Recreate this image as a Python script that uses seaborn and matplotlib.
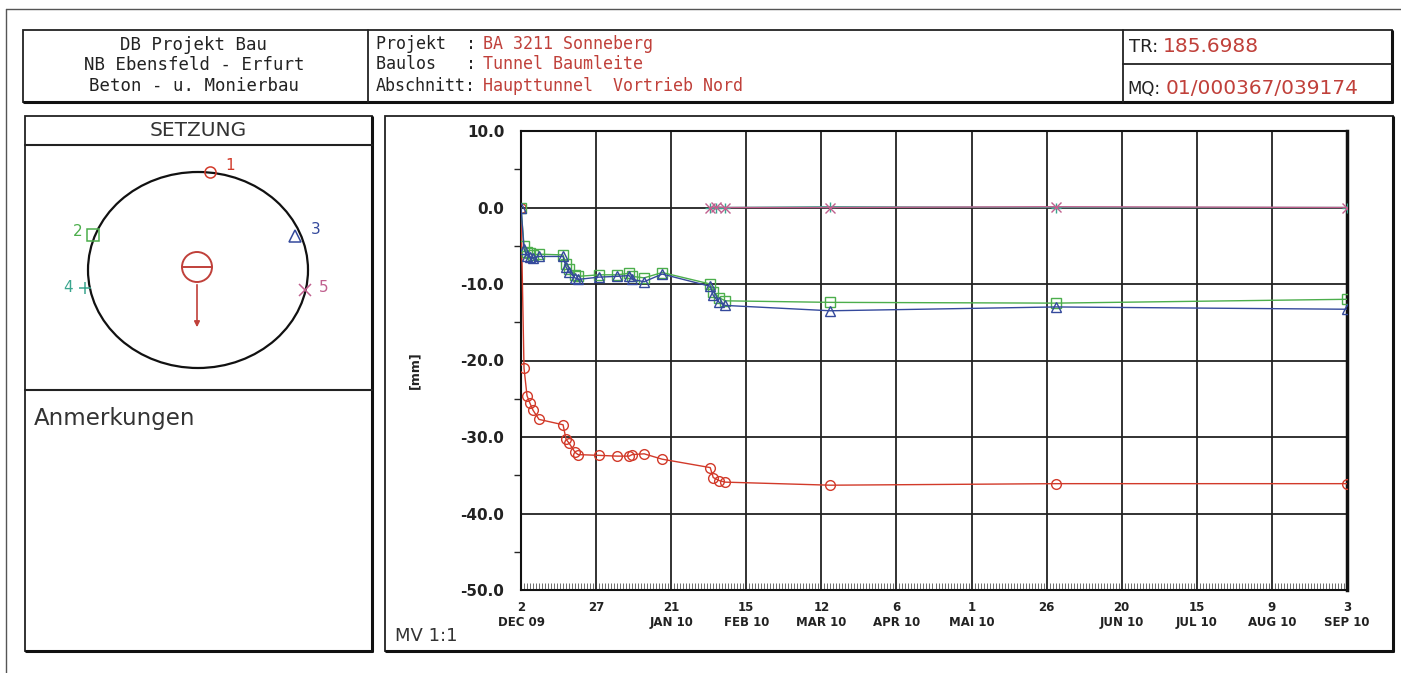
import pandas as pd
import seaborn as sns
import matplotlib.pyplot as plt
import matplotlib.dates as mdates
from matplotlib.patches import Rectangle, Ellipse, Circle

# Messdaten (Setzung in mm)
dates = ['2009-12-02', '2009-12-03', '2009-12-04', '2009-12-05', '2009-12-06',
         '2009-12-08', '2009-12-16', '2009-12-17', '2009-12-18', '2009-12-20',
         '2009-12-21', '2009-12-28', '2010-01-03', '2010-01-07', '2010-01-08',
         '2010-01-12', '2010-01-18', '2010-02-03', '2010-02-04', '2010-02-06',
         '2010-02-08', '2010-03-15', '2010-05-29', '2010-09-03']
p1 = [0.0, -21.0, -24.6, -25.6, -26.5, -27.7, -28.4, -30.3, -30.8, -32.0,
      -32.3, -32.4, -32.5, -32.5, -32.3, -32.2, -32.9, -34.0, -35.3, -35.7,
      -35.9, -36.3, -36.1, -36.1]
p2 = [0.0, -5.0, -5.8, -6.0, -6.2, -6.1, -6.2, -7.4, -8.0, -8.8,
      -9.0, -8.8, -8.8, -8.6, -9.0, -9.2, -8.5, -10.0, -11.0, -11.8,
      -12.2, -12.4, -12.5, -12.0]
p3 = [0.0, -5.4, -6.3, -6.5, -6.6, -6.4, -6.4, -7.8, -8.4, -9.2,
      -9.4, -9.1, -9.0, -8.9, -9.4, -9.7, -8.7, -10.3, -11.5, -12.4,
      -12.8, -13.5, -13.0, -13.3]
dates45 = ['2010-02-03', '2010-02-05', '2010-02-08', '2010-03-15', '2010-05-29', '2010-09-03']
p4 = [0.0, 0.0, 0.0, 0.1, 0.0, 0.0]
p5 = [0.0, 0.1, 0.0, 0.0, 0.1, 0.0]

tick_dates = ['2009-12-02', '2009-12-27', '2010-01-21', '2010-02-15', '2010-03-12',
              '2010-04-06', '2010-05-01', '2010-05-26', '2010-06-20', '2010-07-15',
              '2010-08-09', '2010-09-03']
tick_labels = ['2\nDEC 09', '27', '21\nJAN 10', '15\nFEB 10', '12\nMAR 10',
               '6\nAPR 10', '1\nMAI 10', '26', '20\nJUN 10', '15\nJUL 10',
               '9\nAUG 10', '3\nSEP 10']
y_ticks = [10, 0, -10, -20, -30, -40, -50]

colors = {'1': '#d23a2a', '2': '#4cae4c', '3': '#34499c', '4': '#3aa58e', '5': '#c0608e'}
markers = {'1': 'o', '2': 's', '3': '^', '4': '+', '5': 'x'}

sns.set_style('white')
W, H = 1401, 673
fig = plt.figure(figsize=(W / 100, H / 100), dpi=100)

# Hintergrund-Achse in Pixelkoordinaten fuer Rahmen und Beschriftung
bg = fig.add_axes([0, 0, 1, 1])
bg.set_xlim(0, W)
bg.set_ylim(H, 0)
bg.axis('off')


def box(x0, y0, x1, y1, lw=1.3):
    bg.add_patch(Rectangle((x0, y0), x1 - x0, y1 - y0, fill=False, ec='#222', lw=lw))
    bg.plot([x0 + 1, x1], [y1, y1], color='#111', lw=2.2)
    bg.plot([x1, x1], [y0 + 1, y1], color='#111', lw=2.2)


bg.plot([6, W], [9, 9], color='#555', lw=1)
bg.plot([6, 6], [9, H], color='#555', lw=1)

# Kopfzeile
box(23, 30, 1392, 102)
bg.plot([368, 368], [30, 102], color='#222', lw=1.3)
bg.plot([1123, 1123], [30, 102], color='#222', lw=1.3)
bg.plot([1123, 1392], [64, 64], color='#222', lw=1.3)
mono = 'DejaVu Sans Mono'
for yy, t in zip([45, 65, 86], ['DB Projekt Bau', 'NB Ebensfeld - Erfurt', 'Beton - u. Monierbau']):
    bg.text(194, yy, t, ha='center', va='center', family=mono, fontsize=12.5, color='#222')
for yy, lab, val in zip([44, 64, 86], ['Projekt  :', 'Baulos   :', 'Abschnitt:'],
                        ['BA 3211 Sonneberg', 'Tunnel Baumleite', 'Haupttunnel  Vortrieb Nord']):
    bg.text(376, yy, lab, ha='left', va='center', family=mono, fontsize=12, color='#222')
    bg.text(483, yy, val, ha='left', va='center', family=mono, fontsize=12, color='#c0403a')
bg.text(1129, 47, 'TR:', ha='left', va='center', fontsize=13, color='#222')
bg.text(1163, 47, '185.6988', ha='left', va='center', fontsize=14.5, color='#c0403a')
bg.text(1127, 89, 'MQ:', ha='left', va='center', fontsize=12, color='#222')
bg.text(1166, 89, '01/000367/039174', ha='left', va='center', fontsize=14.5, color='#c0403a')

# linke Spalte
box(25, 116, 372, 651)
bg.plot([25, 372], [145, 145], color='#222', lw=1.5)
bg.plot([25, 372], [390, 390], color='#222', lw=1.5)
bg.text(198, 131, 'SETZUNG', ha='center', va='center', fontsize=14.5, color='#333')
bg.text(34, 418, 'Anmerkungen', ha='left', va='center', fontsize=16.5, color='#333')

bg.add_patch(Ellipse((198, 270), 220, 196, fill=False, ec='#111', lw=1.6))
bg.add_patch(Circle((197, 267), 15, fill=False, ec='#c0403a', lw=1.4))
bg.plot([182, 212], [267, 267], color='#c0403a', lw=1.4)
bg.annotate('', xy=(197, 330), xytext=(197, 282),
            arrowprops=dict(arrowstyle='-|>', color='#c0403a', lw=1.2, mutation_scale=8))
pts = {'1': (210, 172), '2': (93, 235), '3': (295, 236), '4': (85, 288), '5': (305, 290)}
labpos = {'1': (230, 166), '2': (78, 231), '3': (316, 230), '4': (68, 287), '5': (324, 288)}
for k, (px, py) in pts.items():
    bg.plot(px, py, marker=markers[k], ms=8, mfc='none', mec=colors[k], mew=1.1)
    bg.text(*labpos[k], k, ha='center', va='center', fontsize=11, color=colors[k])

# Diagramm-Rahmen
box(385, 116, 1393, 651)
bg.text(395, 636, 'MV 1:1', ha='left', va='center', fontsize=13, color='#333')
bg.text(415, 370, '[mm]', ha='center', va='center', rotation=90, fontsize=9,
        fontweight='bold', color='#222')

# Diagramm
ax = fig.add_axes([521 / W, 1 - 590 / H, 826 / W, (590 - 131) / H])
series = [('1', dates, p1), ('2', dates, p2), ('3', dates, p3), ('4', dates45, p4), ('5', dates45, p5)]
for k, d, v in series:
    sns.lineplot(x=pd.to_datetime(d), y=v, ax=ax, color=colors[k], lw=1.0,
                 marker=markers[k], ms=7, mfc='none', mec=colors[k], mew=1.0,
                 errorbar=None, zorder=3)

ax.set_xlim(pd.Timestamp('2009-12-02'), pd.Timestamp('2010-09-03'))
ax.set_ylim(-50, 10)
ax.set_xticks(pd.to_datetime(tick_dates))
ax.set_xticklabels(tick_labels)
ax.xaxis.set_minor_locator(mdates.DayLocator())
ax.set_yticks(y_ticks)
ax.set_yticklabels([f'{t:.1f}' for t in y_ticks])
ax.set_yticks([5, -5, -15, -25, -35, -45], minor=True)
ax.grid(True, which='major', color='#222', lw=1.3)
for s in ax.spines.values():
    s.set_color('#111')
    s.set_linewidth(1.5)
ax.spines['right'].set_linewidth(2.5)
ax.tick_params(axis='y', which='major', direction='out', length=10, width=1.3,
               labelsize=11, pad=2, colors='#222')
ax.tick_params(axis='y', which='minor', direction='out', length=5, width=1.0, left=True)
ax.tick_params(axis='x', which='major', direction='out', length=5, width=1.3,
               labelsize=8.5, pad=3, colors='#222')
ax.tick_params(axis='x', which='minor', direction='in', length=5, width=0.6, bottom=True,
               color='#555')
for lab in ax.get_xticklabels() + ax.get_yticklabels():
    lab.set_fontweight('bold')
ax.set_xlabel('')
ax.set_ylabel('')
ax.patch.set_alpha(0)

fig.savefig('out.png', dpi=100)
